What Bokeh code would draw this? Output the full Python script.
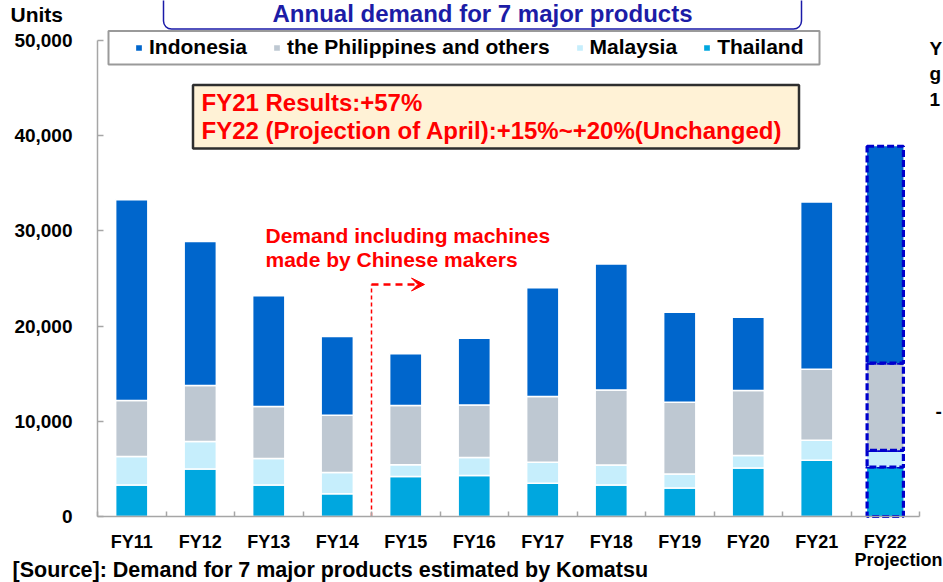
from bokeh.plotting import figure
from bokeh.models import (Range1d, FixedTicker, NumeralTickFormatter, Legend,
                          LegendItem, Label, BoxAnnotation, Arrow, VeeHead, ColumnDataSource)
from bokeh.embed import file_html
from bokeh.resources import INLINE

# ---------------- data ----------------
years = ["FY11", "FY12", "FY13", "FY14", "FY15", "FY16", "FY17", "FY18", "FY19", "FY20", "FY21"]
proj_year = ["FY22"]
thailand    = [3300, 5000, 3300, 2400, 4200, 4300, 3500, 3300, 3000, 5100, 5900]
malaysia    = [3000, 2870, 2800, 2210, 1230, 1890, 2200, 2100, 1470, 1300, 2110]
philippines = [5890, 5880, 5460, 6020, 6230, 5530, 6900, 7880, 7530, 6830, 7450]
indonesia   = [21080, 15140, 11620, 8290, 5430, 7010, 11420, 13230, 9450, 7700, 17580]
proj_thailand = [5200]
proj_malaysia = [1750]
proj_philippines = [9170]
proj_indonesia = [22770]
y_ticks = [0, 10000, 20000, 30000, 40000, 50000]
series_names = ["Indonesia", "the Philippines and others", "Malaysia", "Thailand"]

# ---------------- layout helpers (page pixels -> data) ----------------
W, H = 943, 582
FONT = "Liberation Sans"
AX_LEFT, AX_BOTTOM, Y50_TOP = 97, 516, 40
CAT_W = 68.5
Y_PER_PX = 50000 / (AX_BOTTOM - Y50_TOP)

def X(px):
    return (px - AX_LEFT) / CAT_W - 0.5

def Y(py):
    return (AX_BOTTOM - py) * Y_PER_PX

def BL(py, size):
    # baseline position corrected for how the svg text is placed
    return Y(py - 0.37 * size)

categories = years + proj_year
idx = list(range(len(categories)))
x_years = idx[:len(years)]
x_proj = idx[len(years):]

p = figure(width=W, height=H, x_range=Range1d(X(0), X(W)), y_range=Range1d(Y(H), Y(0)),
           output_backend="svg", toolbar_location=None)
p.min_border = 0
p.min_border_left = p.min_border_right = p.min_border_top = p.min_border_bottom = 0
p.outline_line_color = None
p.xgrid.grid_line_color = None
p.ygrid.grid_line_color = None

COL = {"Indonesia": "#0066CC", "the Philippines and others": "#BEC8D2",
       "Malaysia": "#C6EEFC", "Thailand": "#00A7DF"}

src = ColumnDataSource(dict(x=x_years, thailand=thailand, malaysia=malaysia,
                            philippines=philippines, indonesia=indonesia))
stack = ["thailand", "malaysia", "philippines", "indonesia"]
fills = [COL["Thailand"], COL["Malaysia"], COL["the Philippines and others"], COL["Indonesia"]]
rs = p.vbar_stack(stack, x="x", width=0.47, source=src, fill_color=fills,
                  line_color="white", line_width=1.5)

psrc = ColumnDataSource(dict(x=x_proj, thailand=proj_thailand, malaysia=proj_malaysia,
                             philippines=proj_philippines, indonesia=proj_indonesia))
p.vbar_stack(stack, x="x", width=0.53, source=psrc, fill_color=fills,
             line_color="#0000CC", line_width=3.2, line_dash="7 3")

# ---------------- axes (fixed inside the full-canvas frame) ----------------
AXIS_GREY = "#A6A6A6"
ax = p.yaxis[0]
ax.fixed_location = -0.5
ax.ticker = FixedTicker(ticks=y_ticks)
ax.formatter = NumeralTickFormatter(format="0,0")
ax.bounds = (0, 50000)
ax.major_tick_in = 6
ax.major_tick_out = 0
ax.minor_tick_line_color = None
ax.axis_line_color = AXIS_GREY
ax.axis_line_width = 1.5
ax.major_tick_line_color = AXIS_GREY
ax.major_tick_line_width = 1.5
ax.major_label_text_font = FONT
ax.major_label_text_font_style = "bold"
ax.major_label_text_font_size = "19px"
ax.major_label_text_color = "black"
ax.major_label_standoff = 25

xa = p.xaxis[0]
xa.fixed_location = 0
xa.bounds = (-0.5, len(categories) - 0.5)
xa.ticker = FixedTicker(ticks=idx, minor_ticks=[i - 0.5 for i in range(len(categories) + 1)])
xa.major_label_overrides = {i: c for i, c in zip(idx, categories)}
xa.major_tick_in = 0
xa.major_tick_out = 0
xa.minor_tick_in = 5
xa.minor_tick_out = 0
xa.minor_tick_line_color = AXIS_GREY
xa.minor_tick_line_width = 1.5
xa.axis_line_color = AXIS_GREY
xa.axis_line_width = 1.5
xa.major_label_text_font = FONT
xa.major_label_text_font_style = "bold"
xa.major_label_text_font_size = "18px"
xa.major_label_text_color = "black"
xa.major_label_standoff = 15

p.add_layout(Label(x=X(854), y=BL(566, 18), text="Projection", text_baseline="alphabetic",
                   text_font=FONT, text_font_style="bold", text_font_size="18px",
                   text_color="black"))

# ---------------- title box ----------------
p.add_layout(BoxAnnotation(left=X(163), right=X(801), top=Y(-20), bottom=Y(28.5),
                           fill_color="white", fill_alpha=1, line_color="#1A1AA8",
                           line_alpha=1, line_width=1.5, border_radius=8))
p.add_layout(Label(x=X(482), y=BL(22, 24), text="Annual demand for 7 major products",
                   text_align="center", text_baseline="alphabetic", text_font=FONT,
                   text_font_style="bold", text_font_size="24px", text_color="#1C1CA6"))

# ---------------- legend ----------------
p.add_layout(BoxAnnotation(left=X(108), right=X(819), top=Y(30.5), bottom=Y(64),
                           fill_color="white", fill_alpha=1, line_color="#9A9A9A",
                           line_alpha=1, line_width=2))
order = {"Thailand": 0, "Malaysia": 1, "the Philippines and others": 2, "Indonesia": 3}
legend = Legend(items=[LegendItem(label=n, renderers=[rs[order[n]]]) for n in series_names],
                orientation="horizontal", location=(129, 518),
                glyph_width=9, glyph_height=9, label_standoff=6, spacing=25, padding=5,
                margin=0, label_height=20,
                label_text_font=FONT, label_text_font_style="bold", label_text_font_size="21px",
                label_text_color="black", border_line_alpha=0, background_fill_alpha=0)
p.add_layout(legend)

# ---------------- result box ----------------
p.add_layout(BoxAnnotation(left=X(192.5), right=X(798.5), top=Y(84.5), bottom=Y(148),
                           fill_color="#FFF2D6", fill_alpha=1, line_color="#2E2E2E",
                           line_alpha=1, line_width=2.5))
for txt, py in [("FY21 Results:+57%", 111),
                ("FY22 (Projection of April):+15%~+20%(Unchanged)", 138.5)]:
    p.add_layout(Label(x=X(201), y=BL(py, 24), text=txt, text_baseline="alphabetic",
                       text_font=FONT, text_font_style="bold", text_font_size="24px",
                       text_color="#FF0000"))

# ---------------- Chinese makers note ----------------
split = categories.index("FY15") - 0.5
p.segment(x0=[split], y0=[0], x1=[split], y1=[Y(284)], line_color="#FF0000",
          line_width=1.5, line_dash="4 3")
p.add_layout(Arrow(x_start=split, y_start=Y(284), x_end=X(424), y_end=Y(284),
                   line_color="#FF0000", line_width=2.5, line_dash="7 5",
                   end=VeeHead(size=13, fill_color="#FF0000", line_color="#FF0000",
                               line_width=1)))
for txt, py in [("Demand including machines", 243), ("made by Chinese makers", 267)]:
    p.add_layout(Label(x=X(265), y=BL(py, 21), text=txt, text_baseline="alphabetic",
                       text_font=FONT, text_font_style="bold", text_font_size="21px",
                       text_color="#FF0000"))

# ---------------- outer texts ----------------
p.add_layout(Label(x=X(10), y=BL(22, 21), text="Units", text_baseline="alphabetic",
                   text_font=FONT, text_font_style="bold", text_font_size="21px",
                   text_color="black"))
p.add_layout(Label(x=X(12), y=BL(577, 21.5), text="[Source]: Demand for 7 major products estimated by Komatsu",
                   text_baseline="alphabetic", text_font=FONT, text_font_style="bold",
                   text_font_size="21.5px", text_color="black"))
for txt, px, py in [("Y", 929, 55), ("g", 929, 80), ("1", 929, 106), ("-", 935, 418)]:
    p.add_layout(Label(x=X(px), y=BL(py, 19), text=txt, text_baseline="alphabetic",
                       text_font=FONT, text_font_style="bold", text_font_size="19px",
                       text_color="black"))

open("out.html", "w").write(file_html(p, INLINE))
